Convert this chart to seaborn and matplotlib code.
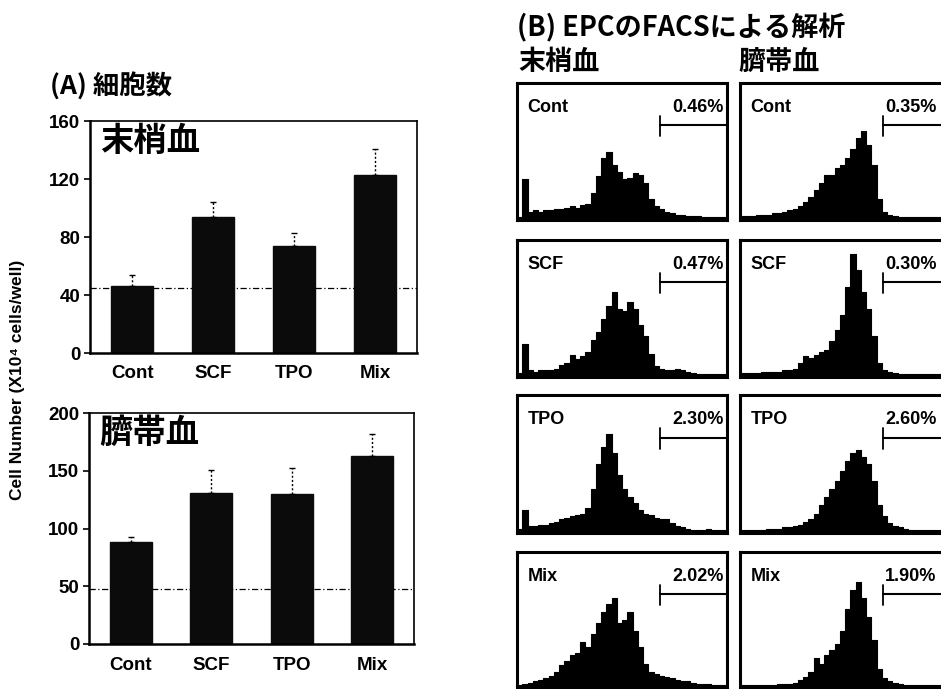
import numpy as np
import pandas as pd
import matplotlib
matplotlib.use("Agg")
import matplotlib.pyplot as plt
import seaborn as sns

sns.set_theme(style="white")
plt.rcParams['font.family'] = ['Liberation Sans', 'DejaVu Sans', 'Noto Sans CJK JP']
plt.rcParams['text.color'] = 'black'
plt.rcParams['axes.labelcolor'] = 'black'
plt.rcParams['xtick.color'] = 'black'
plt.rcParams['ytick.color'] = 'black'

# ---------------- data ----------------
categories = ["Cont", "SCF", "TPO", "Mix"]
pb_values = [46, 94, 74, 123]        # 末梢血
pb_err = [8, 10, 9, 18]
cb_values = [88, 131, 130, 163]      # 臍帯血
cb_err = [5, 20, 22, 19]
pb_ref = 45
cb_ref = 48
pb_yticks = [0, 40, 80, 120, 160]
cb_yticks = [0, 50, 100, 150, 200]

pb_percent = ["0.46%", "0.47%", "2.30%", "2.02%"]
cb_percent = ["0.35%", "0.30%", "2.60%", "1.90%"]

# FACS histogram bin heights (fraction of panel height, 40 bins)
pb_cont = [0.02, 0.30, 0.06, 0.07, 0.06, 0.07, 0.07, 0.08, 0.08, 0.09,
           0.10, 0.09, 0.11, 0.12, 0.20, 0.32, 0.45, 0.50, 0.40, 0.35,
           0.30, 0.31, 0.34, 0.33, 0.27, 0.15, 0.10, 0.08, 0.06, 0.05,
           0.04, 0.04, 0.03, 0.03, 0.03, 0.02, 0.02, 0.02, 0.02, 0.02]
cb_cont = [0.03, 0.03, 0.03, 0.04, 0.04, 0.04, 0.05, 0.05, 0.06, 0.07,
           0.08, 0.10, 0.13, 0.17, 0.22, 0.27, 0.33, 0.33, 0.38, 0.40,
           0.45, 0.52, 0.60, 0.65, 0.55, 0.40, 0.15, 0.06, 0.04, 0.03,
           0.02, 0.02, 0.02, 0.02, 0.02, 0.02, 0.02, 0.02, 0.02, 0.02]
pb_scf = [0.03, 0.24, 0.05, 0.04, 0.05, 0.05, 0.05, 0.06, 0.09, 0.10,
          0.16, 0.13, 0.15, 0.18, 0.27, 0.33, 0.42, 0.52, 0.62, 0.50,
          0.48, 0.55, 0.50, 0.38, 0.30, 0.17, 0.08, 0.06, 0.05, 0.05,
          0.06, 0.05, 0.04, 0.03, 0.02, 0.02, 0.02, 0.02, 0.02, 0.02]
cb_scf = [0.03, 0.03, 0.03, 0.03, 0.04, 0.04, 0.04, 0.04, 0.05, 0.05,
          0.06, 0.10, 0.15, 0.14, 0.16, 0.18, 0.20, 0.26, 0.34, 0.45,
          0.66, 0.90, 0.78, 0.62, 0.50, 0.30, 0.10, 0.05, 0.04, 0.03,
          0.02, 0.02, 0.02, 0.02, 0.02, 0.02, 0.02, 0.02, 0.02, 0.02]
pb_tpo = [0.03, 0.17, 0.05, 0.05, 0.06, 0.06, 0.07, 0.08, 0.10, 0.11,
          0.12, 0.13, 0.14, 0.18, 0.32, 0.50, 0.62, 0.72, 0.58, 0.42,
          0.32, 0.26, 0.22, 0.17, 0.14, 0.13, 0.11, 0.10, 0.10, 0.07,
          0.05, 0.04, 0.03, 0.02, 0.02, 0.02, 0.03, 0.02, 0.02, 0.02]
cb_tpo = [0.02, 0.02, 0.02, 0.02, 0.02, 0.03, 0.03, 0.03, 0.04, 0.04,
          0.05, 0.06, 0.08, 0.10, 0.14, 0.20, 0.26, 0.32, 0.38, 0.45,
          0.52, 0.58, 0.60, 0.55, 0.50, 0.38, 0.20, 0.12, 0.07, 0.05,
          0.04, 0.03, 0.02, 0.02, 0.02, 0.02, 0.02, 0.02, 0.02, 0.02]
pb_mix = [0.02, 0.03, 0.04, 0.05, 0.06, 0.07, 0.09, 0.12, 0.17, 0.20,
          0.24, 0.26, 0.34, 0.30, 0.40, 0.48, 0.56, 0.62, 0.66, 0.48,
          0.50, 0.56, 0.42, 0.30, 0.18, 0.12, 0.10, 0.09, 0.08, 0.07,
          0.06, 0.05, 0.05, 0.04, 0.03, 0.03, 0.03, 0.02, 0.02, 0.02]
cb_mix = [0.02, 0.02, 0.02, 0.02, 0.02, 0.02, 0.02, 0.03, 0.03, 0.03,
          0.04, 0.06, 0.08, 0.12, 0.22, 0.18, 0.24, 0.28, 0.32, 0.42,
          0.58, 0.72, 0.78, 0.66, 0.52, 0.35, 0.14, 0.07, 0.05, 0.04,
          0.03, 0.02, 0.02, 0.02, 0.02, 0.02, 0.02, 0.02, 0.02, 0.02]

pb_hists = [pb_cont, pb_scf, pb_tpo, pb_mix]
cb_hists = [cb_cont, cb_scf, cb_tpo, cb_mix]

# ---------------- figure ----------------
W, H = 941, 689
fig = plt.figure(figsize=(W / 100, H / 100), dpi=100)
fig.patch.set_facecolor("white")

def rect(x0, y0, x1, y1):
    return [x0 / W, 1 - y1 / H, (x1 - x0) / W, (y1 - y0) / H]

JP = ['Noto Sans CJK JP', 'DejaVu Sans']
LAT = ['Liberation Sans', 'DejaVu Sans']

def bar_panel(ax, values, errs, ref, yticks, label):
    df = pd.DataFrame({"cat": categories, "val": values})
    sns.barplot(data=df, x="cat", y="val", color="#0b0b0b", width=0.52,
                saturation=1, ax=ax, errorbar=None)
    for p in ax.patches:
        p.set_edgecolor("#0b0b0b")
    eb = ax.errorbar(np.arange(len(values)), values,
                     yerr=[np.zeros(len(values)), errs],
                     fmt="none", ecolor="black", elinewidth=1.0, capsize=2.5,
                     capthick=1.0)
    for lc in eb[2]:
        lc.set_linestyle((0, (1.5, 1.5)))
    ax.axhline(ref, color="black", lw=0.9, ls=(0, (5, 2, 1, 2)), zorder=0.5)
    ax.set_xlim(-0.52, 3.52)
    ax.set_ylim(yticks[0], yticks[-1])
    ax.set_yticks(yticks)
    ax.set_xlabel("")
    ax.set_ylabel("")
    ax.tick_params(axis="x", length=0, pad=9)
    ax.tick_params(axis="y", length=4, width=1.2, direction="out", left=True, pad=3)
    for t in ax.get_xticklabels() + ax.get_yticklabels():
        t.set_fontfamily(LAT)
        t.set_fontweight("bold")
        t.set_fontsize(13.5)
        t.set_color("black")
    for s in ["left", "bottom"]:
        ax.spines[s].set_linewidth(1.8)
        ax.spines[s].set_color("black")
    for s in ["top", "right"]:
        ax.spines[s].set_linewidth(1.2)
        ax.spines[s].set_color("black")
    ax.text(0.03, 0.91, label, transform=ax.transAxes, fontsize=24,
            fontweight="bold", family=JP, va="center", ha="left", color="black")

axA1 = fig.add_axes(rect(90, 121, 417, 353))
bar_panel(axA1, pb_values, pb_err, pb_ref, pb_yticks, "末梢血")
axA2 = fig.add_axes(rect(89, 413, 414, 644))
bar_panel(axA2, cb_values, cb_err, cb_ref, cb_yticks, "臍帯血")

fig.text(50 / W, 1 - 87 / H, "(A) 細胞数", family=JP, fontsize=19,
         fontweight="bold", va="center", ha="left", color="black")
fig.text(18 / W, 1 - 380 / H, "Cell Number (X10⁴ cells/well)", family=LAT,
         fontsize=12.5, fontweight="bold", rotation=90, va="center", ha="center",
         color="black")

# ---------------- panel B ----------------
fig.text(517 / W, 1 - 28 / H, "(B) EPCのFACSによる解析", family=JP, fontsize=19.5,
         fontweight="bold", va="center", ha="left", color="black")
fig.text(518 / W, 1 - 62 / H, "末梢血", family=JP, fontsize=19.5,
         fontweight="bold", va="center", ha="left", color="black")
fig.text(738 / W, 1 - 62 / H, "臍帯血", family=JP, fontsize=19.5,
         fontweight="bold", va="center", ha="left", color="black")

rows = [(83, 220), (240, 377), (395, 533), (552, 688)]
cols = [(517, 727), (740, 950)]
nb = 40
centers = (np.arange(nb) + 0.5) / nb

for ci, (hists, pcts) in enumerate([(pb_hists, pb_percent), (cb_hists, cb_percent)]):
    x0, x1 = cols[ci]
    for ri, (y0, y1) in enumerate(rows):
        ax = fig.add_axes(rect(x0, y0, x1, y1))
        hdf = pd.DataFrame({"x": centers, "w": hists[ri]})
        sns.histplot(data=hdf, x="x", weights="w", bins=nb, binrange=(0, 1),
                     element="step", fill=True, color="black", alpha=1,
                     linewidth=0.8, ax=ax)
        ax.set_xlim(0, 1)
        ax.set_ylim(0, 1)
        ax.set_xticks([])
        ax.set_yticks([])
        ax.set_xlabel("")
        ax.set_ylabel("")
        for s in ax.spines.values():
            s.set_linewidth(2.2)
            s.set_color("black")
        ax.text(0.05, 0.82, categories[ri], transform=ax.transAxes, fontsize=13,
                fontweight="bold", family=LAT, va="center", ha="left", color="black")
        ax.text(0.985 if ci == 0 else 0.69, 0.82, pcts[ri], transform=ax.transAxes,
                fontsize=13, fontweight="bold", family=LAT, va="center",
                ha="right" if ci == 0 else "left", color="black")
        ax.plot([0.68, 0.68], [0.61, 0.76], color="black", lw=1.3,
                transform=ax.transAxes)
        ax.plot([0.68, 1.0], [0.69, 0.69], color="black", lw=1.5,
                transform=ax.transAxes)

fig.savefig("out.png", dpi=100, facecolor="white")
